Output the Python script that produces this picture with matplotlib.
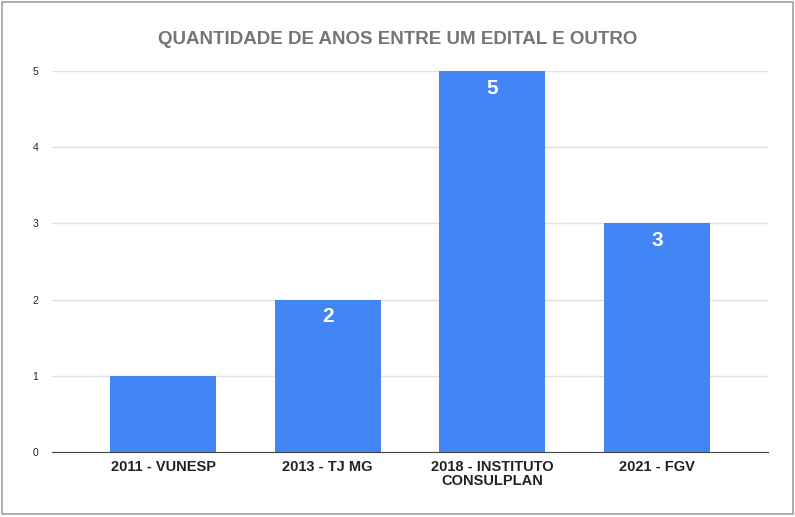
import matplotlib.pyplot as plt
from matplotlib.patches import Rectangle

plt.rcParams['font.family'] = ['Liberation Sans', 'DejaVu Sans']

# Dados
categorias = ["2011 - VUNESP", "2013 - TJ MG", "2018 - INSTITUTO\nCONSULPLAN", "2021 - FGV"]
anos = [1, 2, 5, 3]
rotulos = [None, "2", "5", "3"]  # the 1-bar has no label in the original

fig = plt.figure(figsize=(7.95, 5.17), dpi=100)
ax = fig.add_axes([0.0654, 0.1257, 0.9006, 0.737])

x = range(len(categorias))
bars = ax.bar(x, anos, width=0.645, color="#4285f4", zorder=3)

for b, lab in zip(bars, rotulos):
    if lab is None:
        continue
    ax.annotate(lab, (b.get_x() + b.get_width() / 2, b.get_height()),
                xytext=(0, -12.5), textcoords="offset points", ha="center", va="center",
                color="white", fontsize=15, fontweight="bold", zorder=4)

ax.set_xlim(-0.675, 3.675)
ax.set_ylim(0, 5)
ax.set_yticks(range(0, 6))
ax.set_xticks(list(x))
ax.set_xticklabels(categorias, fontsize=10.5, fontweight="bold", color="#222222", linespacing=0.95)
ax.tick_params(axis="y", length=0, labelsize=7.5, pad=10, labelcolor="#222222")
ax.tick_params(axis="x", length=0, pad=6)
ax.grid(axis="y", color="#e0e0e0", linewidth=1, zorder=0)
for s in ["top", "right", "left"]:
    ax.spines[s].set_visible(False)
ax.spines["bottom"].set_color("#444444")
ax.spines["bottom"].set_zorder(5)

fig.text(0.5, 0.924, "QUANTIDADE DE ANOS ENTRE UM EDITAL E OUTRO", ha="center", va="center",
         fontsize=13.5, fontweight="bold", color="#757575")

fig.patches.append(Rectangle((0.002, 0.005), 0.995, 0.992, transform=fig.transFigure,
                             fill=False, edgecolor="#9e9e9e", linewidth=1.2))

fig.savefig("out.png", dpi=100)
